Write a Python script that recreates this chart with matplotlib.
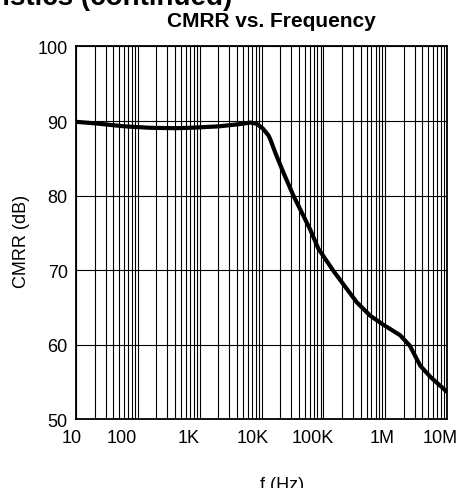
import numpy as np
import matplotlib
matplotlib.use("Agg")
from matplotlib import pyplot as plt
from matplotlib.ticker import FixedLocator, NullFormatter
from matplotlib.transforms import ScaledTranslation

# CMRR curve
freq_hz = [10, 20, 35, 60, 158, 400, 700, 2100, 4500, 6600, 8300, 10500, 12900,
           13800, 17000, 22600, 32800, 61000, 83000, 146000, 348000, 575000,
           933000, 1740000, 2500000, 3700000, 5400000, 10000000]
cmrr_db = [89.9, 89.7, 89.5, 89.3, 89.1, 89.05, 89.1, 89.3, 89.6, 89.8, 89.65, 89.0, 88.1,
           87.6, 85.6, 83.1, 80.0, 75.5, 72.9, 69.9, 65.7, 63.9,
           62.7, 61.3, 59.9, 57.2, 55.7, 53.7]

decades = [10, 100, 1e3, 1e4, 1e5, 1e6, 1e7]
decade_labels = ["10", "100", "1K", "10K", "100K", "1M", "10M"]
db_ticks = [50, 60, 70, 80, 90, 100]

plt.rcParams["font.family"] = ["Liberation Sans", "DejaVu Sans"]

fig = plt.figure(figsize=(4.59, 4.89), dpi=100)
ax = fig.add_axes([0.1656, 0.1401, 0.8083, 0.7628])

ax.plot(freq_hz, cmrr_db, color="black", lw=3.0, solid_joinstyle="round",
        solid_capstyle="butt", zorder=3)

ax.set_xscale("log")
ax.set_xlim(10, 1e7)
ax.set_ylim(50, 100)

# every 1..9 x decade gets a grid line, same weight as the decades
minor = [m * d for d in decades[:-1] for m in range(2, 10)]
ax.xaxis.set_major_locator(FixedLocator(decades))
ax.xaxis.set_minor_locator(FixedLocator(minor))
ax.xaxis.set_minor_formatter(NullFormatter())
ax.set_xticklabels(decade_labels)
ax.set_yticks(db_ticks)
ax.grid(True, which="both", axis="x", color="black", lw=0.8)
ax.grid(True, which="major", axis="y", color="black", lw=0.8)

ax.tick_params(which="both", length=0)
ax.tick_params(axis="x", labelsize=13, pad=7)
ax.tick_params(axis="y", labelsize=13, pad=6)
for sp in ax.spines.values():
    sp.set_linewidth(1.3)

# nudge the frequency labels the way they sit on the sheet
nudges = [-4, -16, -11, -9, -11, -3, -7]
for lab, dx in zip(ax.get_xticklabels(), nudges):
    lab.set_transform(lab.get_transform() + ScaledTranslation(dx / 100, 0, fig.dpi_scale_trans))

ax.set_xlabel("f (Hz)", fontsize=13)
ax.xaxis.set_label_coords(0.555, -0.152)
ax.set_ylabel("CMRR (dB)", fontsize=13)
ax.yaxis.set_label_coords(-0.125, 0.48)

fig.text(271 / 459, 1 - 27 / 489, "CMRR vs. Frequency", ha="center",
         va="baseline", fontsize=15, fontweight="bold")
fig.text(232 / 459, 1 - 5 / 489, "Typical Characteristics (continued)",
         ha="right", va="baseline", fontsize=20, fontweight="bold")

fig.savefig("out.png", dpi=100)
